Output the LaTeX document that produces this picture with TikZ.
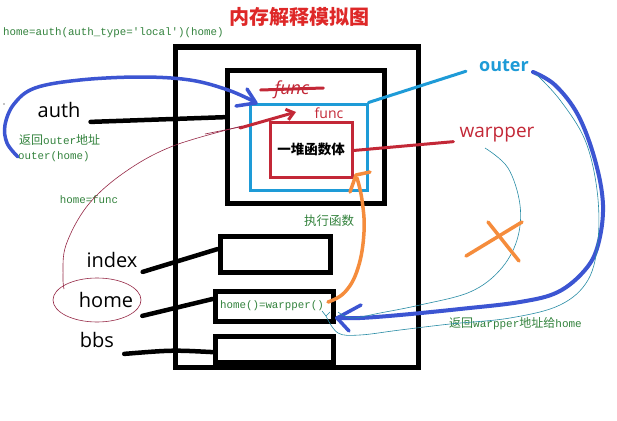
\documentclass[tikz,border=0pt]{standalone}
\usepackage{fontspec}
\setmainfont{Open Sans}
\newfontfamily\cjk{Noto Sans CJK SC}
\newfontfamily\mono{Liberation Mono}
\usetikzlibrary{calc,arrows.meta,shapes.geometric}
\definecolor{titlered}{RGB}{222,40,40}
\definecolor{codegreen}{RGB}{50,130,60}
\definecolor{skyblue}{RGB}{30,155,215}
\definecolor{boxred}{RGB}{195,40,55}
\definecolor{royal}{RGB}{60,85,210}
\definecolor{orangeink}{RGB}{245,140,60}
\definecolor{teal}{RGB}{40,140,165}
\definecolor{thinred}{RGB}{150,40,70}
\tikzset{
  blackbox/.style={draw=black, line width=5pt, minimum width=#1},
  code/.style={text=codegreen, font=\mono\fontsize{10.8}{12}\selectfont, inner sep=0pt},
  label/.style={font=\fontsize{20}{22}\selectfont, inner sep=0pt},
  blackline/.style={draw=black, line width=4.5pt, line cap=round},
  pen/.style={line width=3.5pt, line cap=round, line join=round},
  thin/.style={line width=0.6pt},
}
\begin{document}
\begin{tikzpicture}[x=1pt,y=-1pt]
\useasboundingbox[fill=white] (0,0) rectangle (617,420);

% title and top code
\node[text=titlered, font=\cjk\bfseries\fontsize{20}{22}\selectfont, inner sep=0pt] (title) at (299,17) {内存解释模拟图};
\node[code, anchor=west] (call) at (3,33) {home=auth(auth\_type='local')(home)};

% memory boxes
\node[blackbox=243pt, minimum height=320pt] (mem) at (296.5,207) {};
\node[blackbox=157pt, minimum height=133pt] (fbox) at (305.5,136.5) {};
\node[draw=skyblue, line width=3pt, minimum width=117pt, minimum height=86pt] (bluebox) at (308.5,147) {};
\node[draw=boxred, line width=3pt, minimum width=82pt, minimum height=55pt,
      font=\cjk\bfseries\fontsize{13.5}{15}\selectfont] (redbox) at (311,149.5) {一堆函数体};
\node[blackbox=110pt, minimum height=36pt] (indexbox) at (275,254) {};
\node[blackbox=118pt, minimum height=30pt] (homebox) at (274,306) {};
\node[code] (homecode) at (272,306) {home()=warpper()};
\node[blackbox=118pt, minimum height=26pt] (bbsbox) at (274,349) {};

% labels
\node[label] (auth) at (59,110) {auth};
\node[label] (index) at (112,260) {index};
\node[label] (home) at (106,300) {home};
\node[label] (bbs) at (97,340) {bbs};
\node[draw=thinred, thin, ellipse, minimum width=88pt, minimum height=44pt] (homeell) at (97,300) {};

\node[text=skyblue, font=\bfseries\fontsize{18}{20}\selectfont, inner sep=0pt] (outer) at (504,66) {outer};
\node[text=boxred, font=\fontsize{19}{21}\selectfont, inner sep=0pt] (warpper) at (497,135) {warpper};
\node[text=boxred, font=\fontsize{14}{16}\selectfont, inner sep=0pt] (func) at (329,113) {func};
\node[text=boxred, font=\itshape\fontsize{18}{20}\selectfont, inner sep=0pt] (oldfunc) at (292,90) {func};

\node[code, anchor=west, font=\cjk\fontsize{12}{14}\selectfont] (ret1) at (19,140) {返回{\mono\fontsize{11}{12}\selectfont outer}地址};
\node[code, anchor=west] (outerhome) at (18,157) {outer(home)};
\node[code] (homefunc) at (89,200) {home=func};
\node[code, font=\cjk\fontsize{12.5}{14}\selectfont] (exec) at (329,221) {执行函数};
\node[code, anchor=west, font=\cjk\fontsize{12}{14}\selectfont] (ret2) at (449,324) {返回{\mono\fontsize{11}{12}\selectfont warpper}地址给{\mono\fontsize{11}{12}\selectfont home}};

% black connectors
\draw[blackline] ($(auth.south east)+(10,4)$) -- ($(fbox.north west)!0.36!(fbox.south west)$);
\draw[blackline] ($(index.south east)+(5,4)$) -- ($(indexbox.north west)!0.38!(indexbox.south west)$);
\draw[blackline] ($(home.south east)+(9,8)$) -- ($(homebox.north west)!0.3!(homebox.south west)$);
\draw[blackline] ($(bbs.south east)+(10,6)$) .. controls (172,350) .. ($(bbsbox.north west)!0.6!(bbsbox.south west)$);

% outer / warpper pointers
\draw[skyblue, line width=3pt, line cap=round] (bluebox.north east) -- ($(outer.south west)+(-13,-1)$);
\draw[boxred, line width=3pt, line cap=round] ($(redbox.east)+(0,1)$) -- ($(warpper.south west)+(-6,-1)$);

% struck-out func
\draw[boxred, line width=3pt, line cap=round] ($(oldfunc.west)+(-14,0)$) -- ($(oldfunc.east)+(14,-2)$);

% red arrow into blue box
\draw[boxred, line width=3pt, line cap=round, -{Straight Barb[length=7pt,width=11pt]}] (240,128) -- (296,112);

% thin red curve from home ellipse
\draw[thinred, thin] plot[smooth, tension=0.6] coordinates {(64,289) (63,276) (66,245) (88,205) (125,172) (173,146) (242,126)};
\draw[thinred, thin] (205,134) -- (240,127);

% blue curve returning outer
\coordinate (b1) at (18,157);
\draw[royal, pen] plot[smooth, tension=0.6] coordinates {(b1) (7,143) (5,125) (14,104) (35,88) (80,80) (140,77) (190,80) (228,90) (255,102)};
\draw[royal, pen] (247,89) -- (256,103) -- (236,106);

% orange arrow: execute function
\draw[orangeink, pen] plot[smooth, tension=0.7] coordinates {(328,302) (345,292) (358,268) (364,232) (362,200) (357,178)};
\draw[orangeink, pen] (350,192) -- (356,175) -- (370,172);

% blue curve returning warpper
\draw[royal, pen, line width=4pt] plot[smooth, tension=0.6] coordinates {(533,72) (555,85) (578,115) (595,160) (603,205) (598,245) (585,270) (558,292) (520,302) (460,309) (400,315) (360,318) (337,318)};
\draw[royal, pen] (361,305) -- (337,318) -- (349,331);

% thin teal strokes
\draw[teal, thin] plot[smooth, tension=0.6] coordinates {(536,74) (560,100) (585,140) (597,190) (598,240) (588,280) (560,305) (510,318) (450,324) (400,330) (360,335) (338,333) (326,316)};
\draw[teal, thin] (322,311) -- (326,316) -- (330,312);
\draw[teal, thin] plot[smooth, tension=0.6] coordinates {(485,148) (508,168) (520,205) (517,240) (500,270) (470,292) (420,305) (380,313) (352,318) (338,312)};

% orange cross
\draw[orangeink, pen] (466,256) -- (522,222);
\draw[orangeink, pen] (488,222) -- (519,261);

% stray dot
\fill[black] (4,104) circle (0.6pt);
\end{tikzpicture}
\end{document}
